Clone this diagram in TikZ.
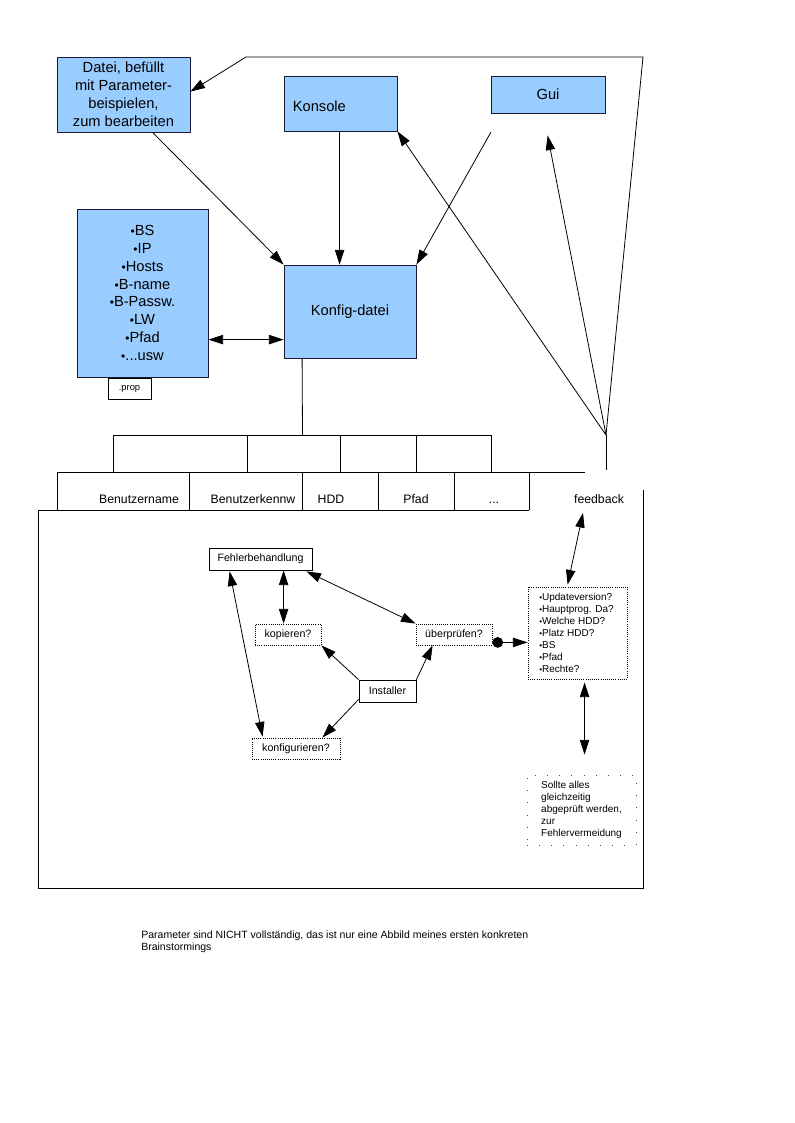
\documentclass[tikz,border=0pt]{standalone}
\usepackage{fontspec}
\setmainfont{Liberation Sans}
\usetikzlibrary{arrows.meta,calc,fit}
\definecolor{lightblue}{HTML}{99CCFF}
\definecolor{boxline}{HTML}{1A1A33}
\newcommand\fbig{\fontsize{11}{13.5}\selectfont}
\newcommand\ftab{\fontsize{9.2}{11}\selectfont}
\newcommand\fsm{\fontsize{7.5}{9}\selectfont}
\newcommand\fdia{\fontsize{8}{9.6}\selectfont}
\newcommand\bu{{\fontsize{9}{9}\selectfont•}}
\newcommand\sbu{{\fontsize{6}{6}\selectfont•}}
\begin{document}
\begin{tikzpicture}[x=0.75pt,y=-0.75pt,
  bluebox/.style={draw=boxline, fill=lightblue, line width=0.6pt, inner sep=0pt},
  solbox/.style={draw, line width=0.6pt, inner sep=0pt},
  dotbox/.style={draw, densely dotted, line width=0.6pt, inner sep=0pt},
  bigtxt/.style={font=\fbig, align=center, inner sep=0pt},
  diatxt/.style={font=\fdia, align=center, inner sep=0pt},
  tip/.tip={Triangle[length=11pt,width=7pt]},
  arr/.style={-tip, line width=0.6pt},
  darr/.style={tip-tip, line width=0.6pt},
  ln/.style={line width=0.6pt},
  tablabel/.style={font=\ftab, inner sep=0pt, anchor=base}
]
\fill[white] (0,0) rectangle (794,1123);
\useasboundingbox (0,0) rectangle (794,1123);

% top nodes
\node[bluebox, fit={(57,57)(190,132)}] (datei) {};
\node[bigtxt] (dateitxt) at (datei.center) {Datei, befüllt\\mit Parameter-\\beispielen,\\zum bearbeiten};
\node[bluebox, fit={(284,76)(397,131)}] (konsole) {};
\node[bigtxt, anchor=west] (konsoletxt) at ($(konsole.west)+(9,2.5)$) {Konsole};
\node[bluebox, fit={(491,76)(605,113)}] (gui) {};
\node[bigtxt] (guitxt) at (gui.center) {Gui};
\node[bluebox, fit={(284,265)(416,358)}] (konfig) {};
\node[bigtxt] (konfigtxt) at (konfig.center) {Konfig-datei};
\node[bluebox, fit={(77,209)(208,377)}] (list) {};
\node[bigtxt, font=\fontsize{11}{13.4}\selectfont] (listtxt) at ($(list.center)+(0,0)$) {\bu BS\\\bu IP\\\bu Hosts\\\bu B-name\\\bu B-Passw.\\\bu LW\\\bu Pfad\\\bu ...usw};
\node[solbox, fit={(108,378)(151,399)}] (prop) {};
\node[font=\fontsize{7}{8}\selectfont, inner sep=0pt] (proptxt) at (prop.center) {.prop};

% focal point and frame
\coordinate (f) at (606,435);
\coordinate (fr1) at (643,57);
\coordinate (fr2) at (246,57);
\coordinate (g1) at (491,132);
\coordinate (fdown) at (606,470);

\draw[arr] ($(datei.south west)+(96,0)$) -- (konfig.north west);
\draw[arr] ($(konsole.south west)+(56,0)$) -- ($(konfig.north west)+(56,0)$);
\draw[arr] (g1) -- (konfig.north east);
\draw[darr] ($(list.north east)+(0,131)$) -- ($(konfig.north west)+(0,75)$);
\draw[arr] (f) -- (konsole.south east);
\draw[arr] (f) -- ($(gui.south west)+(57,22)$);
\draw[arr] (f) -- (fr1) -- (fr2) -- ($(datei.north east)+(0,35)$);
\draw[ln] (f) -- (fdown);

% tab structure
\coordinate (kt) at (302.5,435);
\draw[ln] ($(konfig.south west)+(18.5,0)$) -- (kt);
\draw[ln] (113,472) -- (113,435) -- (491,435) -- (491,472);
\foreach \x in {247,340,416} \draw[ln] (\x,435) -- (\x,472);
\draw[ln] (57,510) -- (57,472) -- (585,472);
\foreach \x in {189,302,378,454,529} \draw[ln] (\x,472) -- (\x,510);
\draw[ln] (529,510) -- (38,510) -- (38,888) -- (643,888) -- (643,490);

\node[tablabel] (t1) at (139,503.5) {Benutzername};
\node[tablabel] (t2) at (253,503.5) {Benutzerkennw};
\node[tablabel] (t3) at (331,503.5) {HDD};
\node[tablabel] (t4) at (416,503.5) {Pfad};
\node[tablabel] (t5) at (494,503.5) {...};
\node[tablabel] (feedback) at (599,503.5) {feedback};

% lower diagram
\node[solbox, fit={(209,548)(312,570)}] (fehler) {};
\node[diatxt] (fehlertxt) at (fehler.center) {Fehlerbehandlung};
\node[dotbox, fit={(255,624)(321,645)}] (kopieren) {};
\node[diatxt] (kopierentxt) at (kopieren.center) {kopieren?};
\node[dotbox, fit={(416,624)(492,645)}] (ueber) {};
\node[diatxt] (uebertxt) at (ueber.center) {überprüfen?};
\node[solbox, fit={(359,680)(416,702)}] (installer) {};
\node[diatxt] (installertxt) at (installer.center) {Installer};
\node[dotbox, fit={(252,738)(340,759)}] (konfigurieren) {};
\node[diatxt] (konfigurierentxt) at (konfigurieren.center) {konfigurieren?};
\node[dotbox, fit={(528,587)(627,679)}] (checks) {};
\node[font=\fsm, align=left, inner sep=0pt] (checkstxt) at ($(checks.center)+(-1,0)$) {\sbu Updateversion?\\\sbu Hauptprog. Da?\\\sbu Welche HDD?\\\sbu Platz HDD?\\\sbu BS\\\sbu Pfad\\\sbu Rechte?};
\node[draw=black!70, line width=0.7pt, dash pattern=on 0.7pt off 8.4pt, inner sep=0pt, fit={(527,775)(636,845)}] (sollte) {};
\node[font=\fontsize{7.5}{9}\selectfont, align=left, inner sep=0pt] (sollttxt) at ($(sollte.center)+(0,0)$) {Sollte alles\\gleichzeitig\\abgeprüft werden,\\zur\\Fehlervermeidung};

\draw[darr] ($(fehler.south west)+(75,0)$) -- ($(kopieren.north west)+(29,0)$);
\draw[darr] ($(fehler.south east)+(-6,1)$) -- (ueber.north west);
\draw[darr] ($(fehler.south west)+(21,1)$) -- ($(konfigurieren.north west)+(11,-1)$);
\draw[arr] (installer.north west) -- (kopieren.south east);
\draw[arr] ($(installer.south west)+(0,-3)$) -- ($(konfigurieren.north east)+(-18,0)$);
\draw[arr] (installer.north east) -- ($(ueber.south west)+(17,0)$);
\coordinate (u1) at ($(ueber.south east)+(0,-3)$);
\draw[{Circle[length=8pt]}-tip, line width=0.6pt] (u1) -- (u1 -| checks.west);
\draw[darr] ($(feedback.south)+(-16,9)$) -- ($(checks.north west)+(40,-2)$);
\draw[darr] ($(checks.south west)+(57,3)$) -- ($(sollte.north west)+(58,-20)$);

% note
\node[anchor=north west, align=left, font=\fontsize{7.9}{9}\selectfont, inner sep=0pt] (note) at (141,931) {Parameter sind NICHT vollständig, das ist nur eine Abbild meines ersten konkreten\\Brainstormings};
\end{tikzpicture}
\end{document}
